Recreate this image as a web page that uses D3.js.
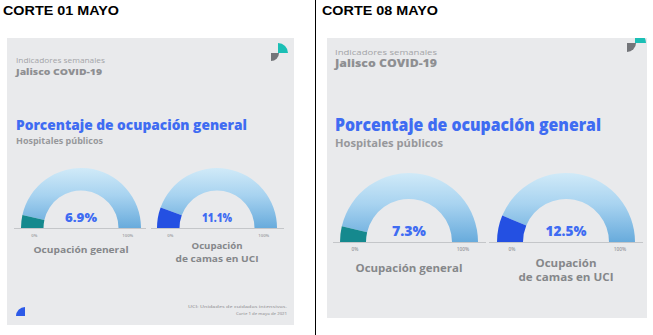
<!DOCTYPE html>
<html>
<head>
<meta charset="utf-8">
<script src="https://cdn.jsdelivr.net/npm/d3@7"></script>
<style>
  html, body { margin: 0; padding: 0; background: #fff; }
  svg { display: block; }
  .hdr { font-family: "Liberation Sans", Arial, sans-serif; font-weight: 700; fill: #000; }
  .ig { font-family: "Open Sans", "Noto Sans", sans-serif; }
</style>
</head>
<body>
<svg id="chart" width="653" height="335"></svg>
<script>
"use strict";

// --- data ---
const panelTitles = ["CORTE 01 MAYO", "CORTE 08 MAYO"];
const gaugeNames = [["Ocupación general"], ["Ocupación", "de camas en UCI"]];
const occupancy01May = [6.9, 11.1];
const occupancy08May = [7.3, 12.5];
const scaleTicks = ["0%", "100%"];
const fillColors = ["#15898e", "#2450e2"];
const footnotes = ["UCI: Unidades de cuidados intensivos.", "Corte 1 de mayo de 2021"];

const GRAY = "#8e8f92";
const BLUE = "#3f6cf2";

// --- layout of each infographic card (positions only) ---
const layouts = [
  {
    values: occupancy01May, hx: 3, bg: [7, 38, 287, 287],
    ind: [16, 63, 6.6, 89], jal: [16, 75, 9, 86],
    title: [16, 130, 14.5, 231], sub: [16, 144, 8, 87],
    cx: [81, 217], cy: 228, ro: 60, ri: 37.5,
    base: [[14, 146], [151, 284]], tickY: 237, tickSize: 4.2,
    valY: 222, valSize: 11.5, valW: [32, 30],
    lab: [[[253, 95]], [[249, 51], [262, 83]]], labSize: 9.5,
    foot: true,
    logo: { tx: 278, ty: 53, tr: 10, gx: 271, gy: 53, gr: 8 }
  },
  {
    values: occupancy08May, hx: 322, bg: [327, 38, 320, 280],
    ind: [335, 55, 7.6, 102], jal: [335, 67, 10, 102],
    title: [335, 131, 17, 266], sub: [335, 147, 10, 108],
    cx: [409, 566], cy: 242, ro: 69, ri: 43,
    base: [[333, 486], [489, 643]], tickY: 251, tickSize: 4.8,
    valY: 236, valSize: 13.5, valW: [34, 41],
    lab: [[[272, 107]], [[267, 61], [281, 95]]], labSize: 11,
    foot: false,
    logo: { tx: 635, ty: 43, tr: 11, gx: 627, gy: 43, gr: 9 }
  }
];

const svg = d3.select("#chart");
const defs = svg.append("defs");

// text helper: fixes the rendered width so it matches the picture
function txt(g, x, y, s, size, width, opts = {}) {
  const t = g.append("text")
    .attr("class", opts.cls || "ig")
    .attr("x", x).attr("y", y)
    .attr("font-size", size)
    .attr("font-weight", opts.weight || 700)
    .attr("fill", opts.fill || GRAY)
    .attr("text-anchor", opts.anchor || "start")
    .text(s);
  if (width) t.attr("textLength", width).attr("lengthAdjust", "spacingAndGlyphs");
  return t;
}

// header text + divider
panelTitles.forEach((s, i) => {
  txt(svg, layouts[i].hx, 15, s, 13.5, 116, { cls: "hdr", fill: "#000" });
});
svg.append("line")
  .attr("x1", 315.5).attr("x2", 315.5).attr("y1", 0).attr("y2", 335)
  .attr("stroke", "#000").attr("stroke-width", 1);

layouts.forEach((L, p) => {
  const [bx, by, bw, bh] = L.bg;
  // the card is a cropped image in the original, so clip to it
  defs.append("clipPath").attr("id", "card" + p)
    .append("rect").attr("x", bx).attr("y", by).attr("width", bw).attr("height", bh);
  const g = svg.append("g").attr("clip-path", `url(#card${p})`);
  g.append("rect").attr("x", bx).attr("y", by).attr("width", bw).attr("height", bh)
    .attr("fill", "#e9eaec");

  txt(g, L.ind[0], L.ind[1], "Indicadores semanales", L.ind[2], L.ind[3], { weight: 400, fill: "#a3a4a7" });
  txt(g, L.jal[0], L.jal[1], "Jalisco COVID-19", L.jal[2], L.jal[3], { weight: 800 });
  txt(g, L.title[0], L.title[1], "Porcentaje de ocupación general", L.title[2], L.title[3], { weight: 800, fill: BLUE });
  txt(g, L.sub[0], L.sub[1], "Hospitales públicos", L.sub[2], L.sub[3], { weight: 700, fill: "#97989b" });

  // logo mark: teal quarter + gray quarter
  const lg = L.logo;
  g.append("path")
    .attr("d", d3.arc()({ innerRadius: 0, outerRadius: lg.tr, startAngle: 0, endAngle: Math.PI / 2 }))
    .attr("transform", `translate(${lg.tx},${lg.ty})`)
    .attr("fill", "#1bbfb5");
  g.append("path")
    .attr("d", d3.arc()({ innerRadius: 0, outerRadius: lg.gr, startAngle: Math.PI / 2, endAngle: Math.PI }))
    .attr("transform", `translate(${lg.gx},${lg.gy})`)
    .attr("fill", "#737579");

  // gradient for the empty part of the gauge (in the arc's local coords)
  const gid = "grad" + p;
  const grad = defs.append("linearGradient").attr("id", gid)
    .attr("gradientUnits", "userSpaceOnUse")
    .attr("x1", 0).attr("x2", 0).attr("y1", -L.ro).attr("y2", 0);
  grad.append("stop").attr("offset", 0).attr("stop-color", "#d0eaf8");
  grad.append("stop").attr("offset", 0.45).attr("stop-color", "#a8d3f0");
  grad.append("stop").attr("offset", 1).attr("stop-color", "#68abdc");

  const angle = d3.scaleLinear().domain([0, 100]).range([-Math.PI / 2, Math.PI / 2]);
  const arc = d3.arc().innerRadius(L.ri).outerRadius(L.ro);

  L.values.forEach((v, i) => {
    const gg = g.append("g");
    const cx = L.cx[i];
    gg.append("path")
      .attr("d", arc({ startAngle: angle(v), endAngle: angle(100) }))
      .attr("transform", `translate(${cx},${L.cy})`)
      .attr("fill", `url(#${gid})`);
    gg.append("path")
      .attr("d", arc({ startAngle: angle(0), endAngle: angle(v) }))
      .attr("transform", `translate(${cx},${L.cy})`)
      .attr("fill", fillColors[i]);

    gg.append("line")
      .attr("x1", L.base[i][0]).attr("x2", L.base[i][1])
      .attr("y1", L.cy + 0.5).attr("y2", L.cy + 0.5)
      .attr("stroke", "#c4c6c9").attr("stroke-width", 1);

    // 0% / 100% under the arc ends
    const mid = (L.ro + L.ri) / 2;
    [0, 100].forEach((t, k) => {
      const x = cx + mid * Math.sin(angle(t)) + (k === 0 ? 2 : -2);
      txt(gg, x, L.tickY, scaleTicks[k], L.tickSize, null, { anchor: "middle", fill: "#9a9b9e", weight: 600 });
    });

    txt(gg, cx, L.valY, d3.format(".1f")(v) + "%", L.valSize, L.valW[i], { anchor: "middle", fill: BLUE, weight: 800 });

    gaugeNames[i].forEach((s, k) => {
      const [ly, lw] = L.lab[i][k];
      txt(gg, cx, ly, s, L.labSize, lw, { anchor: "middle", weight: 700, fill: "#85878a" });
    });
  });

  if (L.foot) {
    txt(g, 287, 308, footnotes[0], 4.3, 99, { anchor: "end", fill: "#9fa0a3", weight: 600 });
    txt(g, 287, 315, footnotes[1], 4.3, 51, { anchor: "end", fill: "#9fa0a3", weight: 600 });
    g.append("path")
      .attr("d", d3.arc()({ innerRadius: 0, outerRadius: 9, startAngle: -Math.PI / 2, endAngle: 0 }))
      .attr("transform", "translate(25,316)")
      .attr("fill", "#2c5ae8");
  }
});
</script>
</body>
</html>
